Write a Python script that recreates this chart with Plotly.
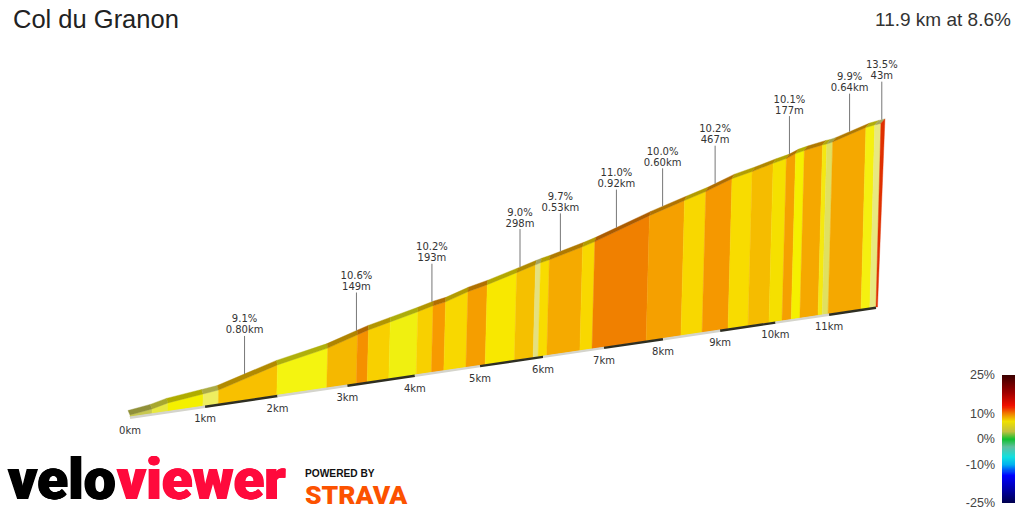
import numpy as np
import plotly.graph_objects as go

TITLE = "Col du Granon"
SUMMARY = "11.9 km at 8.6%"
TOTAL_KM = 11.9

# segment boundaries along the climb (km) and height gained at each (m)
seg_km = [0, 0.29, 0.50, 0.97, 1.18, 1.99, 2.70, 3.13, 3.29, 3.61, 4.02, 4.25, 4.44, 4.78,
          5.08, 5.54, 5.84, 5.92, 6.06, 6.60, 6.80, 7.71, 8.31, 8.68, 9.14, 9.50, 9.88,
          10.12, 10.29, 10.45, 10.79, 10.87, 10.98, 11.61, 11.78, 11.9]
seg_gain = [0, 13, 30, 48, 56, 135, 182, 227, 243, 268, 300, 320, 331, 367,
            390, 432, 460, 467, 477, 523, 542, 644, 703, 738, 792, 819, 852,
            870, 892, 904, 925, 928, 936, 998, 1008, 1013]
seg_colors = ["#c8c850", "#e8e840", "#f4f000", "#eeee60", "#f8c000", "#f4f410", "#f5b800",
              "#f59000", "#f8d000", "#f0f010", "#f8d000", "#f79a00", "#f8d800", "#f59e00",
              "#f8e800", "#f5c000", "#e4e080", "#f8dc00", "#f5aa00", "#f8d800", "#f08000",
              "#f5a000", "#f8d800", "#f59800", "#f8dc00", "#f5bc00", "#f5e000", "#f5a000",
              "#f5f000", "#f5a800", "#f5e810", "#e0e060", "#f5a800", "#f5f010", "#e8e880"]

# callouts for the steepest sections
call_km = [1.55, 3.12, 4.23, 5.58, 6.22, 7.13, 7.90, 8.80, 10.12, 11.23, 11.84]
call_grade = ["9.1%", "10.6%", "10.2%", "9.0%", "9.7%", "11.0%", "10.0%", "10.2%", "10.1%", "9.9%", "13.5%"]
call_length = ["0.80km", "149m", "193m", "298m", "0.53km", "0.92km", "0.60km", "467m", "177m", "0.64km", "43m"]

km_ticks = list(range(12))

scale_stops = [-25, -20, -14, -10, -7, -3, 0, 3, 7, 10, 13, 18, 25]
scale_colors = ["#00004a", "#0000a0", "#0000ff", "#00b0f0", "#10e0e0", "#60c0a0", "#10c030",
                "#c0c040", "#f0e000", "#f08000", "#f01000", "#a00000", "#3a0000"]
scale_ticks = [25, 10, 0, -10, -25]

# oblique perspective projection of the ribbon
P = 0.22
X0, Y0, X1, Y1 = 130.0, 417.0, 876.0, 307.0
RISE = 225.7
LEAN = 6.1
PLINTH = 2.0


def project(km, gain):
    u = np.asarray(km, float) / TOTAL_KM
    d = 1 + P * u
    v = np.asarray(gain, float) / 1030.0
    x = (X0 + ((1 + P) * X1 - X0) * u + LEAN * v) / d
    y = (Y0 + ((1 + P) * Y1 - Y0) * u - (RISE * v + PLINTH)) / d
    return x, y


def base(km):
    u = np.asarray(km, float) / TOTAL_KM
    d = 1 + P * u
    return (X0 + ((1 + P) * X1 - X0) * u) / d, (Y0 + ((1 + P) * Y1 - Y0) * u) / d


def back(km, gain):
    x, y = project(km, gain)
    u = np.asarray(km, float) / TOTAL_KM
    return x - 2 + 6 * u, y - 4.5


def darker(c, f=0.72):
    r, g, b = [int(c[i:i + 2], 16) for i in (1, 3, 5)]
    return f"rgb({int(r * f)},{int(g * f)},{int(b * f)})"


fig = go.Figure()


def poly(xs, ys, color):
    fig.add_trace(go.Scatter(x=xs, y=ys, mode="lines", fill="toself", fillcolor=color,
                             line=dict(color=color, width=0.4), hoverinfo="skip", showlegend=False))


for i, c in enumerate(seg_colors):
    a, b = seg_km[i], seg_km[i + 1]
    ga, gb = seg_gain[i], seg_gain[i + 1]
    bax, bay = base(a)
    bbx, bby = base(b)
    tax, tay = project(a, ga)
    tbx, tby = project(b, gb)
    poly([bax, bbx, tbx, tax, bax], [bay, bby, tby, tay, bay], c)
    kax, kay = back(a, ga)
    kbx, kby = back(b, gb)
    poly([tax, tbx, kbx, kax, tax], [tay, tby, kby, kay, tay], darker(c))

# red end face
ex0, ey0 = base(TOTAL_KM)
ex1, ey1 = project(TOTAL_KM, seg_gain[-1])
ex2, ey2 = back(TOTAL_KM, seg_gain[-1])
poly([ex0, ex1, ex2, ex0 + 1.5, ex0], [ey0, ey1, ey2, ey0, ey0], "#e03000")

# km stripes along the foot of the ribbon
for k in km_ticks:
    end = min(k + 1, TOTAL_KM)
    xs, ys = base(np.array([k, end]))
    fig.add_trace(go.Scatter(x=xs, y=ys + 0.8, mode="lines",
                             line=dict(color="#2e2e22" if k % 2 else "#d4d4cc", width=2.4),
                             hoverinfo="skip", showlegend=False))

# km labels
tx, ty = base(np.array(km_ticks, float))
fig.add_trace(go.Scatter(x=tx, y=ty + 14, mode="text", text=[f"{k}km" for k in km_ticks],
                         textposition="middle center",
                         textfont=dict(family="DejaVu Sans", size=10, color="#333333"),
                         hoverinfo="skip", showlegend=False))

# callouts
cg = np.interp(call_km, seg_km, seg_gain)
cx, cy = back(np.array(call_km), cg)
for x, y in zip(cx, cy):
    fig.add_trace(go.Scatter(x=[x, x], y=[y, y - 38], mode="lines",
                             line=dict(color="#777777", width=1), hoverinfo="skip", showlegend=False))
for arr, off in ((call_grade, 54), (call_length, 43)):
    fig.add_trace(go.Scatter(x=cx, y=cy - off, mode="text", text=arr, textposition="middle center",
                             textfont=dict(family="DejaVu Sans", size=10, color="#333333"),
                             hoverinfo="skip", showlegend=False))

# gradient legend
z_vals = np.linspace(-25, 25, 256)
fig.add_trace(go.Heatmap(x=[0, 1], y=z_vals, z=np.column_stack([z_vals, z_vals]), zmin=-25, zmax=25,
                         colorscale=[[(s + 25) / 50, c] for s, c in zip(scale_stops, scale_colors)],
                         showscale=False, hoverinfo="skip", xaxis="x2", yaxis="y2"))

W, H = 1024, 512
THICK_BLACK = "0.7px 0 #000000, -0.7px 0 #000000, 0 0.4px #000000"
THICK_RED = "0.7px 0 #ff0a3c, -0.7px 0 #ff0a3c, 0 0.4px #ff0a3c"
fig.update_layout(
    width=W, height=H, margin=dict(l=0, r=0, t=0, b=0, pad=0, autoexpand=False),
    paper_bgcolor="white", plot_bgcolor="white", showlegend=False,
    xaxis=dict(range=[0, W], visible=False, domain=[0, 1], fixedrange=True, automargin=False),
    yaxis=dict(range=[H, 0], visible=False, domain=[0, 1], fixedrange=True, automargin=False),
    xaxis2=dict(range=[0, 1], visible=False, domain=[1002 / W, 1015 / W], anchor="y2", fixedrange=True),
    yaxis2=dict(range=[-25, 25], domain=[1 - 503 / H, 1 - 375 / H], anchor="x2", side="left",
                tickvals=scale_ticks, ticktext=[f"{t}%" for t in scale_ticks], showgrid=False,
                zeroline=False, showline=False, ticks="", ticklabelstandoff=6, fixedrange=True,
                automargin=False,
                tickfont=dict(family="Liberation Sans", size=12.5, color="#444444")),
    annotations=[
        dict(x=11, y=19, xref="x", yref="y", text=TITLE, showarrow=False, xanchor="left", yanchor="middle",
             font=dict(family="Liberation Sans", size=25.5, color="#222222")),
        dict(x=1013, y=19, xref="x", yref="y", text=SUMMARY, showarrow=False, xanchor="right", yanchor="middle",
             font=dict(family="Liberation Sans", size=19, color="#333333")),
        dict(x=118, y=479.5, xref="x", yref="y", text="velo", showarrow=False, xanchor="right", yanchor="middle",
             font=dict(family="Roboto", size=57, color="#000000", weight=900, shadow=THICK_BLACK)),
        dict(x=115, y=479.5, xref="x", yref="y", text="viewer", showarrow=False, xanchor="left", yanchor="middle",
             font=dict(family="Roboto", size=56.5, color="#ff0a3c", weight=900, shadow=THICK_RED)),
        dict(x=303, y=473, xref="x", yref="y", text="POWERED BY", showarrow=False, xanchor="left", yanchor="middle",
             font=dict(family="Liberation Sans", size=10.2, color="#111111", weight=700)),
        dict(x=303, y=494, xref="x", yref="y", text="STRAVA", showarrow=False, xanchor="left", yanchor="middle",
             font=dict(family="Roboto", size=26.5, color="#fc5200", weight=900)),
    ],
)
fig.write_html("out.html", config=dict(displayModeBar=False),
               post_script="document.body.style.margin='0';document.body.style.overflow='hidden';")
